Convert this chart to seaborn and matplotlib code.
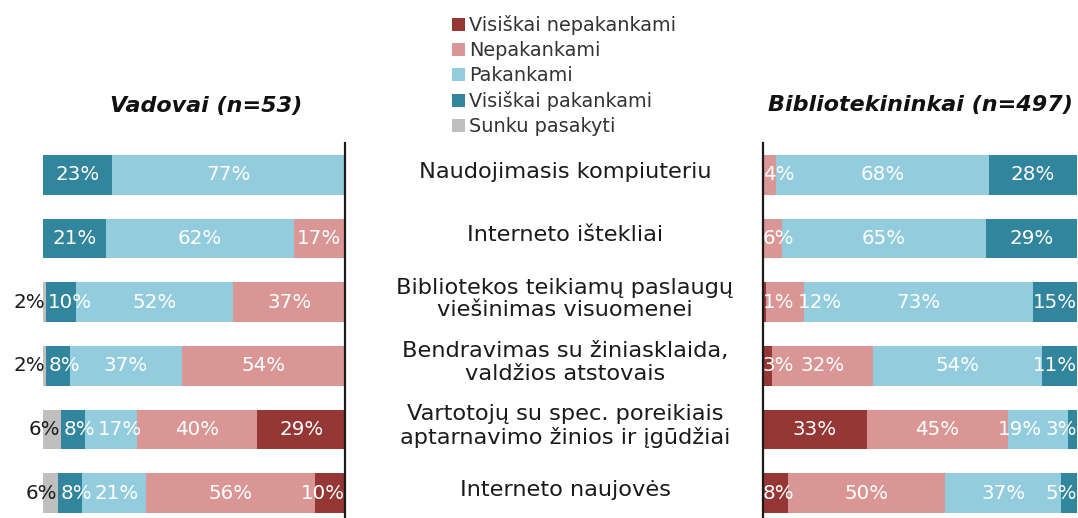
import numpy as np
import pandas as pd
import matplotlib
matplotlib.use("Agg")
import matplotlib.pyplot as plt
import seaborn as sns
from matplotlib.patches import Patch
from matplotlib.font_manager import FontProperties
from matplotlib.transforms import blended_transform_factory

# Survey topics (rows, top to bottom)
topics = [
    "Naudojimasis kompiuteriu",
    "Interneto ištekliai",
    "Bibliotekos teikiamų paslaugų\nviešinimas visuomenei",
    "Bendravimas su žiniasklaida,\nvaldžios atstovais",
    "Vartotojų su spec. poreikiais\naptarnavimo žinios ir įgūdžiai",
    "Interneto naujovės",
]

# Answer levels, stacked outward from the centre line
levels = ["Visiškai nepakankami", "Nepakankami", "Pakankami",
          "Visiškai pakankami", "Sunku pasakyti"]
level_colors = ["#953735", "#D99694", "#93CDDD", "#31859C", "#BFBFBF"]

# Vadovai (n=53), percent per topic
vad_visiskai_nepakankami = [0, 0, 0, 0, 29, 10]
vad_nepakankami = [0, 17, 37, 54, 40, 56]
vad_pakankami = [77, 62, 52, 37, 17, 21]
vad_visiskai_pakankami = [23, 21, 10, 8, 8, 8]
vad_sunku_pasakyti = [0, 0, 2, 2, 6, 6]

# Bibliotekininkai (n=497), percent per topic
bib_visiskai_nepakankami = [0, 0, 1, 3, 33, 8]
bib_nepakankami = [4, 6, 12, 32, 45, 50]
bib_pakankami = [68, 65, 73, 54, 19, 37]
bib_visiskai_pakankami = [28, 29, 15, 11, 3, 5]
bib_sunku_pasakyti = [0, 0, 0, 0, 0, 0]

vad_title = "Vadovai (n=53)"
bib_title = "Bibliotekininkai (n=497)"

W, H = 1078, 518
sns.set_theme(style="white")
plt.rcParams["font.family"] = ["DejaVu Sans"]

fig = plt.figure(figsize=(W / 100, H / 100), dpi=100)
fig.patch.set_facecolor("white")

ax_l = fig.add_axes([43 / W, 0, (345 - 43) / W, (518 - 143) / H])
ax_r = fig.add_axes([763 / W, 0, (1077 - 763) / W, (518 - 143) / H])

VAL_SIZE = 14.3
val_font = FontProperties(family="DejaVu Sans", size=VAL_SIZE)


def draw_bars(ax, series):
    vals = np.array(series, dtype=float)
    cum = vals.cumsum(axis=0)
    # Longest cumulative bar first, each shorter one painted on top
    for k in range(len(levels) - 1, -1, -1):
        df = pd.DataFrame({"topic": topics, "value": cum[k]})
        sns.barplot(data=df, x="value", y="topic", order=topics, orient="h",
                    color=level_colors[k], saturation=1, width=0.62,
                    linewidth=0, errorbar=None, ax=ax)
    return vals, cum


def spread(centers, halfw, start, end, gap):
    # Keep neighbouring labels from running into each other
    p = list(centers)
    n = len(p)
    for i in range(n):
        lo = start + halfw[i] if i == 0 else p[i - 1] + halfw[i - 1] + halfw[i] + gap
        p[i] = max(p[i], lo)
    for i in range(n - 1, -1, -1):
        hi = end - halfw[i] if i == n - 1 else p[i + 1] - halfw[i + 1] - halfw[i] - gap
        p[i] = min(p[i], hi)
    return p


def label_bars(ax, vals, cum, renderer):
    px_per_unit = ax.bbox.width / 100.0

    def half_width(t):
        w, _, _ = renderer.get_text_width_height_descent(t, val_font, ismath=False)
        return w / 2 / px_per_unit

    for r in range(len(topics)):
        idx = [k for k in range(4) if vals[k, r] > 0]
        texts = [f"{int(vals[k, r])}%" for k in idx]
        colors = ["white"] * len(idx)
        centers = [cum[k, r] - vals[k, r] / 2 for k in idx]
        halfw = [half_width(t) for t in texts]
        end = 100.0
        if vals[4, r] > 0:
            # "Sunku pasakyti" share is written just outside the bar end
            t = f"{int(vals[4, r])}%"
            h = half_width(t)
            bar_end = cum[4, r] - vals[4, r]
            texts.append(t)
            colors.append("#1a1a1a")
            halfw.append(h)
            centers.append(bar_end + 0.3 + h)
            end = bar_end + 0.3 + 2 * h
        pos = spread(centers, halfw, 0, end, 1.0)
        for t, x, c in zip(texts, pos, colors):
            ax.text(x, r, t, ha="center", va="center", color=c,
                    fontproperties=val_font)


vad = [vad_visiskai_nepakankami, vad_nepakankami, vad_pakankami,
       vad_visiskai_pakankami, vad_sunku_pasakyti]
bib = [bib_visiskai_nepakankami, bib_nepakankami, bib_pakankami,
       bib_visiskai_pakankami, bib_sunku_pasakyti]

vals_l, cum_l = draw_bars(ax_l, vad)
vals_r, cum_r = draw_bars(ax_r, bib)

for ax in (ax_l, ax_r):
    ax.set_ylim(5.39, -0.5)
    ax.set_xticks([])
    ax.set_yticks([])
    ax.set_xlabel("")
    ax.set_ylabel("")
    for s in ax.spines.values():
        s.set_visible(False)
    ax.set_facecolor("none")

ax_l.set_xlim(100, 0)
ax_r.set_xlim(0, 100)
ax_l.spines["right"].set_visible(True)
ax_r.spines["left"].set_visible(True)
for sp in (ax_l.spines["right"], ax_r.spines["left"]):
    sp.set_color("#1a1a1a")
    sp.set_linewidth(1.6)

fig.canvas.draw()
renderer = fig.canvas.get_renderer()
label_bars(ax_l, vals_l, cum_l, renderer)
label_bars(ax_r, vals_r, cum_r, renderer)

# Topic names between the two panels
tr = blended_transform_factory(fig.transFigure, ax_l.transData)
for r, name in enumerate(topics):
    fig.text(565 / W, r - 0.05, name, transform=tr,
             ha="center", va="center", fontsize=16.2, color="#1a1a1a",
             linespacing=1.18)

# Panel titles
fig.text(206 / W, 1 - 106 / H, vad_title, ha="center", va="center",
         fontsize=16, fontweight="bold", fontstyle="italic", color="#111111")
fig.text(920 / W, 1 - 105 / H, bib_title, ha="center", va="center",
         fontsize=16, fontweight="bold", fontstyle="italic", color="#111111")

# Legend
handles = [Patch(facecolor=c, edgecolor="none", label=l)
           for c, l in zip(level_colors, levels)]
fig.legend(handles=handles, loc="upper left",
           bbox_to_anchor=(452 / W, 1 - 15 / H), frameon=False,
           fontsize=13.9, handlelength=0.68, handleheight=0.68,
           handletextpad=0.2, labelspacing=0.31, borderpad=0,
           borderaxespad=0, labelcolor="#333333")

fig.savefig("out.png", dpi=100, facecolor="white")
